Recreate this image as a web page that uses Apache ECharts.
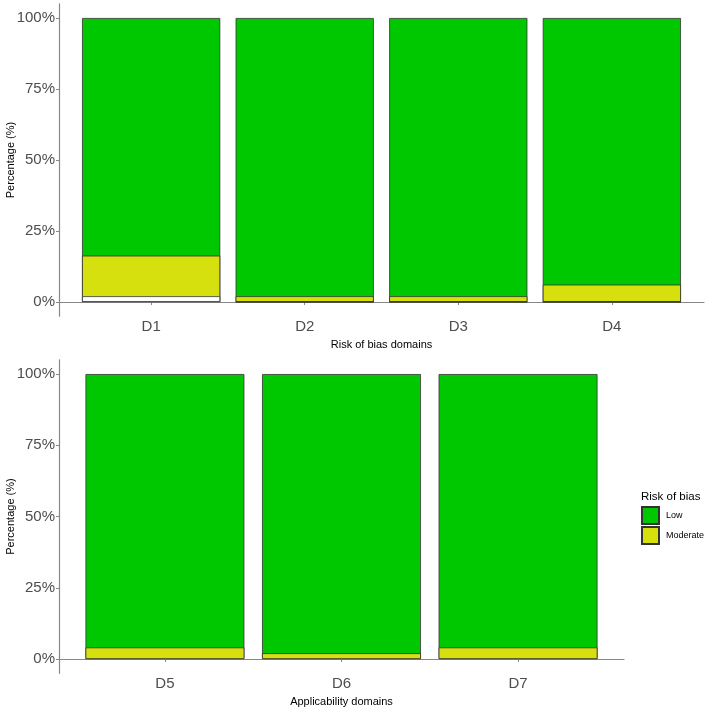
<!DOCTYPE html>
<html><head><meta charset="utf-8">
<script src="https://cdn.jsdelivr.net/npm/echarts@6/dist/echarts.min.js"></script>
<style>html,body{margin:0;padding:0;background:#fff}#c{width:708px;height:709px}</style>
</head><body><div id="c"></div>
<script>
// ---- data ----
const topCats = ['D1', 'D2', 'D3', 'D4'];
const botCats = ['D5', 'D6', 'D7'];
const topBlank = [2.04, 0, 0, 0];          // unlabelled white segment
const topModerate = [14.29, 2.04, 2.04, 6.12];
const topLow = [83.67, 97.96, 97.96, 93.88];
const botBlank = [0, 0, 0];
const botModerate = [4.08, 2.04, 4.08];
const botLow = [95.92, 97.96, 95.92];
const yTicks = [0, 25, 50, 75, 100];
const legendNames = ['Low', 'Moderate'];

const GREEN = '#00C800', YELLOW = '#D6E00F';
const FONT = 'Liberation Sans, Arial, sans-serif';

const chart = echarts.init(document.getElementById('c'), null, {renderer: 'canvas'});

const grids = [
  {left: 59, top: 3.8, width: 645, height: 312.4, containLabel: false, outerBoundsMode: 'none'},
  {left: 59, top: 359.8, width: 565, height: 313.5, containLabel: false, outerBoundsMode: 'none'}
];
const unitPx = [645 / (topCats.length + 0.2), 565 / (botCats.length + 0.2)];

function xAxis(i, cats, title) {
  return {
    type: 'value', gridIndex: i, min: 0.4, max: cats.length + 0.6,
    splitLine: {show: false},
    axisLine: {show: true, lineStyle: {color: '#888', width: 1.2}},
    axisTick: {show: true, length: 3, customValues: cats.map((c, k) => k + 1), lineStyle: {color: '#888'}},
    axisLabel: {customValues: cats.map((c, k) => k + 1), formatter: v => cats[Math.round(v) - 1] || '',
      color: '#4D4D4D', fontSize: 15, fontFamily: FONT, margin: 3},
    name: title, nameLocation: 'middle', nameGap: 23, nameMoveOverlap: false,
    nameTextStyle: {color: '#000', fontSize: 11, fontFamily: FONT}
  };
}
function yAxis(i) {
  return {
    type: 'value', gridIndex: i, min: -5, max: 105,
    splitLine: {show: false},
    axisLine: {show: true, lineStyle: {color: '#888', width: 1.2}},
    axisTick: {show: true, length: 3, customValues: yTicks, lineStyle: {color: '#888'}},
    axisLabel: {customValues: yTicks, formatter: v => v + '%', color: '#4D4D4D', fontSize: 15, fontFamily: FONT, margin: 4},
    name: 'Percentage (%)', nameLocation: 'middle', nameGap: 43, nameRotate: 90, nameMoveOverlap: false,
    nameTextStyle: {color: '#000', fontSize: 11, fontFamily: FONT}
  };
}

// layers drawn as cumulative totals, overlapping (later series on top)
function mkSeries(i, name, cum, color, z) {
  return {
    type: 'bar', name: name, xAxisIndex: i, yAxisIndex: i, barGap: '-100%', z: z,
    barWidth: unitPx[i] * 0.9,
    data: cum.map((v, k) => [k + 1, v]),
    itemStyle: {color: color, borderColor: '#333', borderWidth: 0.8},
    emphasis: {disabled: true}
  };
}
function cumulative(a, b) { return a.map((v, k) => v + (b ? b[k] : 0)); }

const topModCum = cumulative(topBlank, topModerate);
const topLowCum = cumulative(topModCum, topLow);
const botModCum = cumulative(botBlank, botModerate);
const botLowCum = cumulative(botModCum, botLow);

const series = [
  mkSeries(0, 'Low', topLowCum, GREEN, 2),
  mkSeries(0, 'Moderate', topModCum, YELLOW, 3),
  mkSeries(0, 'blank', topBlank, '#FFFFFF', 4),
  mkSeries(1, 'Low', botLowCum, GREEN, 2),
  mkSeries(1, 'Moderate', botModCum, YELLOW, 3)
];

chart.setOption({
  animation: false,
  backgroundColor: '#fff',
  grid: grids,
  xAxis: [xAxis(0, topCats, 'Risk of bias domains'), xAxis(1, botCats, 'Applicability domains')],
  yAxis: [yAxis(0), yAxis(1)],
  legend: {
    data: legendNames, orient: 'vertical', left: 641, top: 506,
    icon: 'rect', itemWidth: 17, itemHeight: 17, itemGap: 1,
    textStyle: {fontSize: 9, fontFamily: FONT, color: '#000', padding: [0, 0, 0, 2]},
    selectedMode: false, padding: 0
  },
  graphic: [{type: 'text', left: 641, top: 491, style: {text: 'Risk of bias', fontSize: 11.5, fontFamily: FONT, fill: '#000'}}],
  series: series
});
</script></body></html>
